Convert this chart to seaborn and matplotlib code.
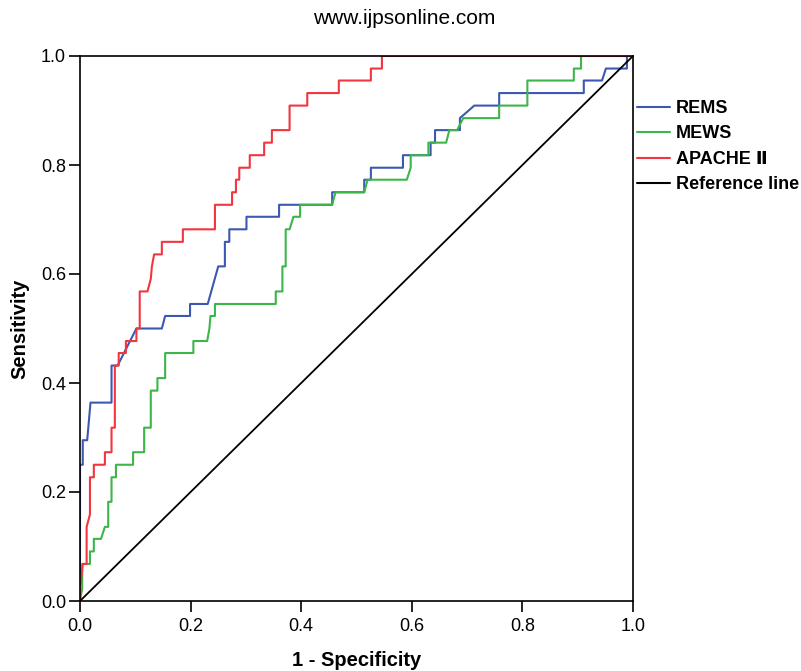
import pandas as pd
import matplotlib
matplotlib.use('Agg')
import matplotlib.pyplot as plt
import seaborn as sns

# ROC curve vertices (1 - specificity, sensitivity)
rems_fpr = [0, 0, 0.005, 0.005, 0.013, 0.019, 0.057, 0.057, 0.068, 0.102, 0.148, 0.154,
            0.199, 0.199, 0.231, 0.25, 0.262, 0.262, 0.27, 0.27, 0.301, 0.301, 0.36, 0.36,
            0.456, 0.456, 0.514, 0.514, 0.526, 0.526, 0.584, 0.584, 0.634, 0.634, 0.642,
            0.642, 0.687, 0.687, 0.713, 0.758, 0.758, 0.911, 0.911, 0.944, 0.951, 0.989,
            0.989, 1.0]
rems_tpr = [0, 0.25, 0.25, 0.295, 0.295, 0.364, 0.364, 0.432, 0.432, 0.5, 0.5, 0.523,
            0.523, 0.545, 0.545, 0.614, 0.614, 0.659, 0.659, 0.682, 0.682, 0.705, 0.705,
            0.727, 0.727, 0.75, 0.75, 0.773, 0.773, 0.795, 0.795, 0.818, 0.818, 0.841,
            0.841, 0.864, 0.864, 0.886, 0.909, 0.909, 0.932, 0.932, 0.955, 0.955, 0.977,
            0.977, 1.0, 1.0]

mews_fpr = [0, 0.004, 0.004, 0.018, 0.018, 0.025, 0.025, 0.038, 0.045, 0.051, 0.051,
            0.057, 0.057, 0.065, 0.065, 0.096, 0.096, 0.116, 0.116, 0.128, 0.128, 0.14,
            0.14, 0.154, 0.154, 0.205, 0.205, 0.23, 0.234, 0.236, 0.244, 0.244, 0.354,
            0.354, 0.366, 0.366, 0.372, 0.372, 0.379, 0.386, 0.398, 0.398, 0.456, 0.462,
            0.514, 0.52, 0.591, 0.598, 0.598, 0.63, 0.63, 0.662, 0.668, 0.682, 0.693,
            0.758, 0.758, 0.809, 0.809, 0.893, 0.893, 0.906, 0.906, 1.0]
mews_tpr = [0, 0.023, 0.068, 0.068, 0.091, 0.091, 0.114, 0.114, 0.136, 0.136, 0.182,
            0.182, 0.227, 0.227, 0.25, 0.25, 0.273, 0.273, 0.318, 0.318, 0.386, 0.386,
            0.409, 0.409, 0.455, 0.455, 0.477, 0.477, 0.5, 0.523, 0.523, 0.545, 0.545,
            0.568, 0.568, 0.614, 0.614, 0.682, 0.682, 0.705, 0.705, 0.727, 0.727, 0.75,
            0.75, 0.773, 0.773, 0.795, 0.818, 0.818, 0.841, 0.841, 0.864, 0.864, 0.886,
            0.886, 0.909, 0.909, 0.955, 0.955, 0.977, 0.977, 1.0, 1.0]

apache_fpr = [0, 0, 0.005, 0.012, 0.012, 0.018, 0.018, 0.025, 0.025, 0.045, 0.045,
              0.057, 0.057, 0.063, 0.063, 0.07, 0.07, 0.083, 0.083, 0.102, 0.102, 0.108,
              0.108, 0.122, 0.128, 0.13, 0.134, 0.148, 0.148, 0.186, 0.186, 0.244, 0.244,
              0.275, 0.275, 0.282, 0.282, 0.288, 0.288, 0.307, 0.307, 0.333, 0.333, 0.347,
              0.347, 0.379, 0.379, 0.411, 0.411, 0.468, 0.468, 0.526, 0.526, 0.546, 0.546,
              1.0]
apache_tpr = [0, 0.023, 0.068, 0.068, 0.136, 0.159, 0.227, 0.227, 0.25, 0.25, 0.273,
              0.273, 0.318, 0.318, 0.432, 0.432, 0.455, 0.455, 0.477, 0.477, 0.5, 0.5,
              0.568, 0.568, 0.591, 0.614, 0.636, 0.636, 0.659, 0.659, 0.682, 0.682, 0.727,
              0.727, 0.75, 0.75, 0.773, 0.773, 0.795, 0.795, 0.818, 0.818, 0.841, 0.841,
              0.864, 0.864, 0.909, 0.909, 0.932, 0.932, 0.955, 0.955, 0.977, 0.977, 1.0,
              1.0]

ref_x = [0, 1]
ref_y = [0, 1]

curve_names = ['REMS', 'MEWS', 'APACHE \u2161']
curve_colors = ['#3d58b0', '#3cb54a', '#f2353f']

# long table, one block of vertices per curve
frames = []
for name, fx, ty in zip(curve_names, [rems_fpr, mews_fpr, apache_fpr],
                        [rems_tpr, mews_tpr, apache_tpr]):
    frames.append(pd.DataFrame({'fpr': fx, 'tpr': ty, 'curve': name}))
roc = pd.concat(frames, ignore_index=True)

sns.set_style('white')
plt.rcParams['font.family'] = ['Liberation Sans', 'DejaVu Sans']
plt.rcParams['text.color'] = 'black'
plt.rcParams['axes.labelcolor'] = 'black'

fig = plt.figure(figsize=(8.01, 6.71), dpi=100)
ax = fig.add_axes([80 / 801, 1 - 601 / 671, 553 / 801, 545 / 671])

# keep the vertex order so the tied steps stay as drawn
sns.lineplot(data=roc, x='fpr', y='tpr', hue='curve', hue_order=curve_names,
             palette=curve_colors, estimator=None, sort=False,
             linewidth=1.5, ax=ax)
sns.lineplot(x=ref_x, y=ref_y, color='black', linewidth=1.3, ax=ax,
             label='Reference line')

ax.set_xlim(0, 1)
ax.set_ylim(0, 1)
ticks = [0.0, 0.2, 0.4, 0.6, 0.8, 1.0]
ax.set_xticks(ticks)
ax.set_yticks(ticks)
ax.set_xticklabels([f'{t:.1f}' for t in ticks])
ax.set_yticklabels([f'{t:.1f}' for t in ticks])
ax.tick_params(axis='both', direction='out', length=8, width=1.2,
               labelsize=13, colors='black', bottom=True, left=True)
ax.tick_params(axis='x', pad=4)
ax.tick_params(axis='y', pad=2)
for sp in ax.spines.values():
    sp.set_color('black')
    sp.set_linewidth(1.2)

ax.set_xlabel('1 - Specificity', fontsize=14.5, fontweight='bold')
ax.set_ylabel('Sensitivity', fontsize=14.5, fontweight='bold')
ax.xaxis.label.set_va('center')
ax.yaxis.label.set_va('center')
ax.xaxis.set_label_coords(0.5, -59 / 545)
ax.yaxis.set_label_coords(-60 / 553, 0.5)

handles, labels = ax.get_legend_handles_labels()
leg = ax.legend(handles, labels, loc='upper left',
                bbox_to_anchor=(637 / 801, 1 - 100 / 671),
                bbox_transform=fig.transFigure, frameon=False, borderpad=0,
                borderaxespad=0, handlelength=1.8, handletextpad=0.35,
                labelspacing=0.47, prop={'size': 13, 'weight': 'bold'})
for h in leg.get_lines():
    h.set_linewidth(1.5)
for t in leg.get_texts():
    t.set_color('black')

fig.text(404 / 801, 1 - 19 / 671, 'www.ijpsonline.com', ha='center', va='center',
         fontsize=15)

fig.savefig('out.png', dpi=100)
